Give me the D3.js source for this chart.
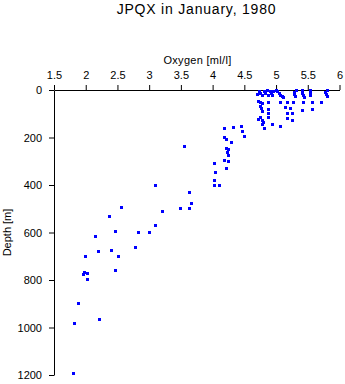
<!DOCTYPE html>
<html>
<head>
<meta charset="utf-8">
<script src="https://cdn.jsdelivr.net/npm/d3@7"></script>
<style>
  html, body { margin: 0; padding: 0; background: #fff; }
  svg { display: block; }
  text { font-family: Arial, "Liberation Sans", Helvetica, sans-serif; fill: #000; }
</style>
</head>
<body>
<script>
// Oxygen values [ml/l]
const oxygen = [
  4.695,4.73,4.747,4.779,4.81,4.826,4.857,4.873,4.905,4.92,4.936,4.952,
  4.999,5.015,5.047,5.062,5.094,5.11,
  5.315,5.283,5.283,5.299,
  5.409,5.409,5.425,5.441,
  5.535,5.535,5.535,
  5.803,5.772,5.787,5.803,
  4.716,4.747,4.779,4.873,5.062,5.173,5.267,5.425,5.567,5.709,
  4.747,4.763,4.873,5.141,5.22,5.409,5.567,
  4.779,4.873,5.173,5.252,
  4.747,4.716,4.779,4.873,5.173,5.252,
  4.795,4.779,4.936,5.062,4.81,
  4.18,4.317,4.448,4.459,4.5,4.184,4.211,4.295,3.554,4.211,4.248,4.232,4.248,
  4.184,4.248,4.027,4.211,4.043,4.027,3.092,4.027,4.101,3.633,3.664,3.491,3.633,
  2.561,3.207,2.372,3.097,2.466,2.829,3.002,2.151,2.782,2.403,2.198,1.993,2.514,
  2.466,1.978,2.025,1.957,2.025,1.878,2.205,1.82,1.8
];
// Depth values [m]
const depth = [
  16,4,13,21,4,13,2,21,4,13,21,4,
  1,6,13,19,25,29,
  1,8,17,25,
  1,11,21,29,
  1,11,21,
  1,8,17,25,
  46,51,55,51,51,51,51,51,51,51,
  67,76,80,72,76,84,80,
  88,97,97,97,
  114,122,126,114,118,128,
  135,143,143,152,160,
  161,155,152,171,192,197,206,220,235,243,250,260,275,
  293,300,307,330,345,380,401,399,401,428,475,498,498,
  491,511,532,570,594,599,599,616,662,672,677,698,698,
  757,768,771,776,797,896,965,982,1193
];
const xTicks = [1.5,2,2.5,3,3.5,4,4.5,5,5.5,6];
const yTicks = [0,200,400,600,800,1000,1200];
const title = "JPQX in January, 1980";
const xLabel = "Oxygen [ml/l]";
const yLabel = "Depth [m]";

const W = 345, H = 384;
const svg = d3.select("body").append("svg").attr("width", W).attr("height", H);

const x = d3.scaleLinear().domain([1.5, 6]).range([54, 339.5]);
const y = d3.scaleLinear().domain([0, 1200]).range([90, 375]);

const fmt = d => String(d);

const gx = svg.append("g").attr("transform", "translate(0,90)")
  .call(d3.axisTop(x).tickValues(xTicks).tickFormat(fmt).tickSize(5).tickSizeOuter(0).tickPadding(6));
const gy = svg.append("g").attr("transform", "translate(54,0)")
  .call(d3.axisLeft(y).tickValues(yTicks).tickFormat(fmt).tickSize(5).tickSizeOuter(0).tickPadding(7));

[gx, gy].forEach(g => {
  g.selectAll("text").attr("font-size", 11).style("font-family", "Arial, 'Liberation Sans', sans-serif").attr("fill", "#000");
  g.selectAll("line,path").attr("stroke", "#000").attr("stroke-width", 1);
  g.attr("font-size", null).attr("font-family", null);
});

svg.append("text").attr("x", 196.5).attr("y", 14).attr("text-anchor", "middle")
  .attr("font-size", 14).style("letter-spacing", "0.8px").text(title);
svg.append("text").attr("x", 197.5).attr("y", 64).attr("text-anchor", "middle")
  .attr("font-size", 11).style("letter-spacing", "0.3px").text(xLabel);
svg.append("text").attr("transform", "translate(11,232.5) rotate(-90)").attr("text-anchor", "middle")
  .attr("font-size", 11).text(yLabel);

const pts = oxygen.map((o, i) => ({o, d: depth[i]}));
svg.append("g").selectAll("rect").data(pts).join("rect")
  .attr("x", p => Math.round(x(p.o)) - 1)
  .attr("y", p => Math.round(y(p.d)) - 1)
  .attr("width", 3).attr("height", 3)
  .attr("fill", "#0000ff");
</script>
</body>
</html>
